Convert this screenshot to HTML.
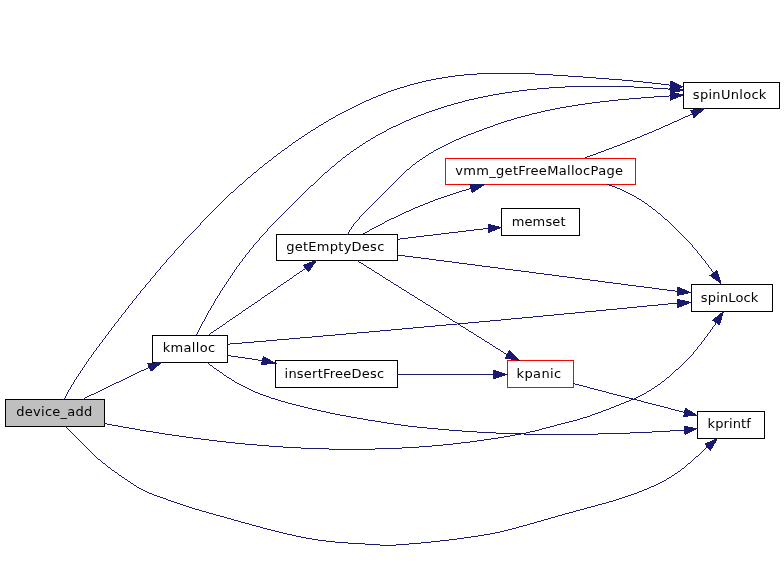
<!DOCTYPE html>
<html><head><meta charset="utf-8"><title>device_add call graph</title>
<style>
html,body{margin:0;padding:0;background:#fff;}
svg{display:block;will-change:transform;}
.n text{font-family:"DejaVu Sans","Liberation Sans",sans-serif;font-size:13px;fill:#000;}
.e{shape-rendering:crispEdges;}
.e path{fill:none;stroke:#191970;stroke-width:1;}
.e polygon{fill:#191970;stroke:none;}
</style></head><body>
<svg width="784" height="571" viewBox="0 0 784 571">
<rect x="0" y="0" width="784" height="571" fill="#fff"/>
<g class="n">
<rect x="5.5" y="399.5" width="99" height="27" fill="#bfbfbf" stroke="#000"/><text x="16.26" y="416" textLength="76.06" lengthAdjust="spacing">device_add</text>
<rect x="152.5" y="335.5" width="75" height="27" fill="#fff" stroke="#000"/><text x="162.75" y="352" textLength="52.43" lengthAdjust="spacing">kmalloc</text>
<rect x="276.5" y="234.5" width="121" height="26" fill="#fff" stroke="#000"/><text x="286.23" y="251" textLength="98.08" lengthAdjust="spacing">getEmptyDesc</text>
<rect x="275.5" y="360.5" width="122" height="27" fill="#fff" stroke="#000"/><text x="284.54" y="378" textLength="99.59" lengthAdjust="spacing">insertFreeDesc</text>
<rect x="445.5" y="158.5" width="190" height="26" fill="#fff" stroke="#f00"/><text x="455.26" y="175" textLength="167.73" lengthAdjust="spacing">vmm_getFreeMallocPage</text>
<rect x="501.5" y="208.5" width="78" height="27" fill="#fff" stroke="#000"/><text x="511.65" y="226" textLength="53.92" lengthAdjust="spacing">memset</text>
<rect x="507.5" y="360.5" width="66" height="27" fill="#fff" stroke="#f00"/><text x="516.62" y="378" textLength="44.48" lengthAdjust="spacing">kpanic</text>
<rect x="683.5" y="82.5" width="96" height="26" fill="#fff" stroke="#000"/><text x="692.86" y="99" textLength="73.49" lengthAdjust="spacing">spinUnlock</text>
<rect x="691.5" y="284.5" width="81" height="27" fill="#fff" stroke="#000"/><text x="700.86" y="302" textLength="57.49" lengthAdjust="spacing">spinLock</text>
<rect x="697.5" y="411.5" width="67" height="27" fill="#fff" stroke="#000"/><text x="707.62" y="428" textLength="43.23" lengthAdjust="spacing">kprintf</text>
</g>
<g class="e">
<path d="M63 399.5h1M64 398.5h1M65.5 396v2M66.5 394v2M67.5 392v2M68.5 390v2M69 389.5h1M70.5 387v2M71.5 385v2M72 384.5h1M73.5 382v2M74.5 380v2M75 379.5h1M76.5 377v2M77 376.5h1M78.5 374v2M79 373.5h1M80.5 371v2M81 370.5h1M82.5 368v2M83 367.5h1M84.5 365v2M85 364.5h1M86.5 362v2M87 361.5h1M88.5 359v2M89 358.5h1M90 357.5h1M91.5 355v2M92 354.5h1M93.5 352v2M94 351.5h1M95 350.5h1M96.5 348v2M97 347.5h1M98 346.5h1M99.5 344v2M100 343.5h1M101 342.5h1M102.5 340v2M103 339.5h1M104 338.5h1M105.5 336v2M106 335.5h1M107 334.5h1M108.5 332v2M109 331.5h1M110 330.5h1M111.5 328v2M112 327.5h1M113 326.5h1M114.5 324v2M115 323.5h1M116 322.5h1M117 321.5h1M118.5 319v2M119 318.5h1M120 317.5h1M121.5 315v2M122 314.5h1M123 313.5h1M124 312.5h1M125.5 310v2M126 309.5h1M127 308.5h1M128.5 306v2M129 305.5h1M130 304.5h1M131 303.5h1M132.5 301v2M133 300.5h1M134 299.5h1M135 298.5h1M136.5 296v2M137 295.5h1M138 294.5h1M139 293.5h1M140.5 291v2M141 290.5h1M142 289.5h1M143 288.5h1M144 287.5h1M145.5 285v2M146 284.5h1M147 283.5h1M148 282.5h1M149 281.5h1M150.5 279v2M151 278.5h1M152 277.5h1M153 276.5h1M154 275.5h1M155.5 273v2M156 272.5h1M157 271.5h1M158 270.5h1M159 269.5h1M160.5 267v2M161 266.5h1M162 265.5h1M163 264.5h1M164 263.5h1M165 262.5h1M166.5 260v2M167 259.5h1M168 258.5h1M169 257.5h1M170 256.5h1M171 255.5h1M172 254.5h1M173 253.5h1M174.5 251v2M175 250.5h1M176 249.5h1M177 248.5h1M178 247.5h1M179 246.5h1M180 245.5h1M181 244.5h1M182 243.5h1M183.5 241v2M184 240.5h1M185 239.5h1M186 238.5h1M187 237.5h1M188 236.5h1M189 235.5h1M190 234.5h1M191 233.5h1M192 232.5h1M193 231.5h1M194 230.5h1M195 229.5h1M196 228.5h1M197 227.5h1M198 226.5h1M199 225.5h1M200.5 223v2M201 222.5h1M202 221.5h1M203 220.5h1M204 219.5h1M205 218.5h1M206 217.5h1M207 216.5h1M208 215.5h1M209 214.5h1M210 213.5h1M211 212.5h1M212 211.5h1M213 210.5h1M214 209.5h1M215 208.5h1M216 207.5h1M217 206.5h1M218 205.5h1M219 204.5h1M220 203.5h1M221 202.5h1M222 201.5h1M223 200.5h1M224 199.5h1M225 198.5h1M226 197.5h1M227 196.5h1M228 195.5h1M229 194.5h1M230 193.5h1M231 192.5h2M233 191.5h1M234 190.5h1M235 189.5h1M236 188.5h1M237 187.5h1M238 186.5h1M239 185.5h1M240 184.5h2M242 183.5h1M243 182.5h1M244 181.5h1M245 180.5h1M246 179.5h1M247 178.5h1M248 177.5h2M250 176.5h1M251 175.5h1M252 174.5h1M253 173.5h1M254 172.5h2M256 171.5h1M257 170.5h1M258 169.5h1M259 168.5h1M260 167.5h2M262 166.5h1M263 165.5h1M264 164.5h1M265 163.5h2M267 162.5h1M268 161.5h1M269 160.5h2M271 159.5h1M272 158.5h1M273 157.5h1M274 156.5h2M276 155.5h1M277 154.5h1M278 153.5h2M280 152.5h1M281 151.5h1M282 150.5h2M284 149.5h1M285 148.5h2M287 147.5h1M288 146.5h1M289 145.5h2M291 144.5h1M292 143.5h1M293 142.5h2M295 141.5h1M296 140.5h2M298 139.5h1M299 138.5h2M301 137.5h1M302 136.5h2M304 135.5h1M305 134.5h2M307 133.5h1M308 132.5h2M310 131.5h1M311 130.5h2M313 129.5h2M315 128.5h1M316 127.5h2M318 126.5h1M319 125.5h2M321 124.5h2M323 123.5h1M324 122.5h2M326 121.5h2M328 120.5h1M329 119.5h2M331 118.5h2M333 117.5h2M335 116.5h1M336 115.5h2M338 114.5h2M340 113.5h2M342 112.5h2M344 111.5h2M346 110.5h2M348 109.5h2M350 108.5h2M352 107.5h2M354 106.5h2M356 105.5h2M358 104.5h2M360 103.5h2M362 102.5h2M364 101.5h2M366 100.5h3M369 99.5h2M371 98.5h2M373 97.5h3M376 96.5h2M378 95.5h3M381 94.5h2M383 93.5h3M386 92.5h2M388 91.5h3M391 90.5h3M394 89.5h3M397 88.5h3M400 87.5h4M404 86.5h3M407 85.5h3M410 84.5h4M414 83.5h4M418 82.5h4M422 81.5h4M426 80.5h5M431 79.5h5M436 78.5h6M442 77.5h6M448 76.5h7M455 75.5h9M464 74.5h13M477 73.5h58M535 74.5h18M553 75.5h15M568 76.5h15M583 77.5h13M596 78.5h13M609 79.5h13M622 80.5h11M633 81.5h10M643 82.5h9M652 83.5h9M661 84.5h8M669 85.5h2"/><polygon points="684.7,87.1 669.3,89.8 670.6,80.3"/>
<path d="M196 334.5h1M197.5 332v2M198.5 330v2M199.5 328v2M200.5 326v2M201.5 324v2M202.5 322v2M203 321.5h1M204.5 319v2M205.5 317v2M206.5 315v2M207.5 313v2M208.5 311v2M209 310.5h1M210.5 308v2M211.5 306v2M212 305.5h1M213.5 303v2M214.5 301v2M215.5 299v2M216 298.5h1M217.5 296v2M218 295.5h1M219.5 293v2M220.5 291v2M221 290.5h1M222.5 288v2M223 287.5h1M224.5 285v2M225 284.5h1M226.5 282v2M227 281.5h1M228.5 279v2M229 278.5h1M230.5 276v2M231 275.5h1M232.5 273v2M233 272.5h1M234.5 270v2M235 269.5h1M236.5 267v2M237 266.5h1M238 265.5h1M239.5 263v2M240 262.5h1M241 261.5h1M242.5 259v2M243 258.5h1M244 257.5h1M245.5 255v2M246 254.5h1M247 253.5h1M248 252.5h1M249.5 250v2M250 249.5h1M251 248.5h1M252 247.5h1M253.5 245v2M254 244.5h1M255 243.5h1M256 242.5h1M257 241.5h1M258 240.5h1M259.5 238v2M260 237.5h1M261 236.5h1M262 235.5h1M263 234.5h1M264 233.5h1M265 232.5h1M266 231.5h1M267.5 229v2M268 228.5h1M269 227.5h1M270 226.5h1M271 225.5h1M272 224.5h1M273 223.5h1M274 222.5h1M275 221.5h1M276 220.5h1M277 219.5h1M278 218.5h1M279 217.5h1M280 216.5h1M281 215.5h1M282 214.5h1M283 213.5h1M284 212.5h1M285 211.5h1M286 210.5h1M287 209.5h1M288 208.5h1M289 207.5h1M290 206.5h1M291 205.5h1M292 204.5h1M293 203.5h1M294 202.5h1M295 201.5h1M296 200.5h1M297 199.5h1M298 198.5h1M299 197.5h1M300 196.5h1M301 195.5h1M302 194.5h1M303 193.5h1M304 192.5h1M305 191.5h1M306 190.5h1M307 189.5h1M308 188.5h1M309 187.5h1M310 186.5h1M311 185.5h2M313 184.5h1M314 183.5h1M315 182.5h1M316 181.5h1M317 180.5h1M318 179.5h1M319 178.5h1M320 177.5h1M321 176.5h1M322 175.5h1M323 174.5h1M324 173.5h1M325 172.5h2M327 171.5h1M328 170.5h1M329 169.5h1M330 168.5h1M331 167.5h1M332 166.5h2M334 165.5h1M335 164.5h1M336 163.5h1M337 162.5h1M338 161.5h2M340 160.5h1M341 159.5h1M342 158.5h1M343 157.5h2M345 156.5h1M346 155.5h1M347 154.5h2M349 153.5h1M350 152.5h1M351 151.5h2M353 150.5h1M354 149.5h2M356 148.5h1M357 147.5h2M359 146.5h1M360 145.5h2M362 144.5h1M363 143.5h2M365 142.5h1M366 141.5h2M368 140.5h2M370 139.5h1M371 138.5h2M373 137.5h2M375 136.5h1M376 135.5h2M378 134.5h2M380 133.5h2M382 132.5h2M384 131.5h2M386 130.5h1M387 129.5h2M389 128.5h2M391 127.5h2M393 126.5h3M396 125.5h2M398 124.5h2M400 123.5h2M402 122.5h2M404 121.5h2M406 120.5h3M409 119.5h2M411 118.5h2M413 117.5h3M416 116.5h2M418 115.5h3M421 114.5h3M424 113.5h2M426 112.5h3M429 111.5h3M432 110.5h3M435 109.5h3M438 108.5h3M441 107.5h3M444 106.5h3M447 105.5h4M451 104.5h3M454 103.5h4M458 102.5h4M462 101.5h3M465 100.5h4M469 99.5h5M474 98.5h4M478 97.5h5M483 96.5h5M488 95.5h5M493 94.5h6M499 93.5h6M505 92.5h7M512 91.5h7M519 90.5h8M527 89.5h10M537 88.5h12M549 87.5h16M565 86.5h69M634 87.5h19M653 88.5h15M668 89.5h3"/><polygon points="684.7,90.3 669.5,93.9 670.3,84.3"/>
<path d="M347 234.5h1M348.5 232v2M349.5 230v2M350 229.5h1M351.5 227v2M352 226.5h1M353.5 224v2M354 223.5h1M355 222.5h1M356 221.5h1M357 220.5h1M358 219.5h1M359.5 217v2M360 216.5h1M361 215.5h1M362 214.5h1M363 213.5h1M364 212.5h1M365 211.5h1M366 210.5h1M367 209.5h1M368 208.5h1M369 207.5h1M370 206.5h1M371 205.5h1M372 204.5h1M373 203.5h1M374 202.5h1M375 201.5h1M376 200.5h1M377 199.5h1M378 198.5h1M379 197.5h1M380 196.5h1M381 195.5h1M382 194.5h1M383 193.5h1M384 192.5h1M385 191.5h1M386 190.5h1M387 189.5h1M388 188.5h1M389 187.5h1M390 186.5h1M391 185.5h1M392 184.5h1M393 183.5h1M394 182.5h1M395 181.5h1M396 180.5h1M397 179.5h1M398 178.5h1M399 177.5h1M400 176.5h1M401 175.5h1M402 174.5h1M403 173.5h1M404 172.5h1M405 171.5h1M406 170.5h1M407 169.5h2M409 168.5h1M410 167.5h1M411 166.5h1M412 165.5h1M413 164.5h2M415 163.5h1M416 162.5h1M417 161.5h2M419 160.5h1M420 159.5h2M422 158.5h1M423 157.5h2M425 156.5h1M426 155.5h2M428 154.5h1M429 153.5h2M431 152.5h2M433 151.5h1M434 150.5h2M436 149.5h2M438 148.5h2M440 147.5h2M442 146.5h2M444 145.5h2M446 144.5h2M448 143.5h2M450 142.5h2M452 141.5h2M454 140.5h2M456 139.5h3M459 138.5h2M461 137.5h2M463 136.5h3M466 135.5h2M468 134.5h3M471 133.5h3M474 132.5h2M476 131.5h3M479 130.5h3M482 129.5h2M484 128.5h3M487 127.5h3M490 126.5h3M493 125.5h2M495 124.5h3M498 123.5h3M501 122.5h3M504 121.5h3M507 120.5h4M511 119.5h3M514 118.5h3M517 117.5h4M521 116.5h4M525 115.5h4M529 114.5h3M532 113.5h5M537 112.5h4M541 111.5h4M545 110.5h5M550 109.5h5M555 108.5h5M560 107.5h6M566 106.5h6M572 105.5h6M578 104.5h7M585 103.5h7M592 102.5h8M600 101.5h9M609 100.5h9M618 99.5h11M629 98.5h12M641 97.5h13M654 96.5h15M669 95.5h2"/><polygon points="684.7,95.0 670.2,100.8 669.6,91.1"/>
<path d="M585 157.5h2M587 156.5h3M590 155.5h3M593 154.5h3M596 153.5h2M598 152.5h3M601 151.5h3M604 150.5h2M606 149.5h3M609 148.5h3M612 147.5h2M614 146.5h3M617 145.5h3M620 144.5h2M622 143.5h3M625 142.5h2M627 141.5h3M630 140.5h2M632 139.5h3M635 138.5h2M637 137.5h3M640 136.5h2M642 135.5h2M644 134.5h3M647 133.5h2M649 132.5h3M652 131.5h2M654 130.5h2M656 129.5h3M659 128.5h2M661 127.5h2M663 126.5h2M665 125.5h3M668 124.5h2M670 123.5h2M672 122.5h2M674 121.5h3M677 120.5h2M679 119.5h2M681 118.5h2M683 117.5h2M685 116.5h3M688 115.5h2M690 114.5h3"/><polygon points="705.4,108.0 694.0,118.6 689.9,109.9"/>
<path d="M363 233.5h2M365 232.5h2M367 231.5h2M369 230.5h1M370 229.5h2M372 228.5h2M374 227.5h2M376 226.5h2M378 225.5h2M380 224.5h2M382 223.5h2M384 222.5h1M385 221.5h2M387 220.5h2M389 219.5h2M391 218.5h3M394 217.5h2M396 216.5h2M398 215.5h2M400 214.5h2M402 213.5h2M404 212.5h2M406 211.5h3M409 210.5h2M411 209.5h2M413 208.5h2M415 207.5h3M418 206.5h2M420 205.5h3M423 204.5h2M425 203.5h3M428 202.5h2M430 201.5h3M433 200.5h2M435 199.5h3M438 198.5h3M441 197.5h3M444 196.5h3M447 195.5h3M450 194.5h3M453 193.5h3M456 192.5h3M459 191.5h3M462 190.5h4M466 189.5h3M469 188.5h2"/><polygon points="485.9,184.2 472.0,193.4 469.2,184.2"/>
<path d="M397 239.5h3M400 238.5h8M408 237.5h8M416 236.5h8M424 235.5h9M433 234.5h8M441 233.5h8M449 232.5h9M458 231.5h8M466 230.5h8M474 229.5h9M483 228.5h6"/><polygon points="502.5,227.4 488.3,233.2 487.7,223.6"/>
<path d="M397 254.5h1M398 255.5h7M405 256.5h8M413 257.5h8M421 258.5h8M429 259.5h7M436 260.5h8M444 261.5h8M452 262.5h7M459 263.5h8M467 264.5h8M475 265.5h7M482 266.5h8M490 267.5h8M498 268.5h7M505 269.5h8M513 270.5h8M521 271.5h8M529 272.5h7M536 273.5h8M544 274.5h8M552 275.5h7M559 276.5h8M567 277.5h8M575 278.5h7M582 279.5h8M590 280.5h8M598 281.5h7M605 282.5h8M613 283.5h8M621 284.5h7M628 285.5h8M636 286.5h8M644 287.5h8M652 288.5h7M659 289.5h8M667 290.5h8M675 291.5h3"/><polygon points="692.2,292.7 676.6,296.1 677.6,286.5"/>
<path d="M357 260.5h1M358 261.5h1M359 262.5h2M361 263.5h2M363 264.5h1M364 265.5h2M366 266.5h1M367 267.5h2M369 268.5h2M371 269.5h1M372 270.5h2M374 271.5h1M375 272.5h2M377 273.5h2M379 274.5h1M380 275.5h2M382 276.5h1M383 277.5h2M385 278.5h1M386 279.5h2M388 280.5h2M390 281.5h1M391 282.5h2M393 283.5h1M394 284.5h2M396 285.5h2M398 286.5h1M399 287.5h2M401 288.5h1M402 289.5h2M404 290.5h2M406 291.5h1M407 292.5h2M409 293.5h1M410 294.5h2M412 295.5h2M414 296.5h1M415 297.5h2M417 298.5h1M418 299.5h2M420 300.5h2M422 301.5h1M423 302.5h2M425 303.5h1M426 304.5h2M428 305.5h2M430 306.5h1M431 307.5h2M433 308.5h1M434 309.5h2M436 310.5h2M438 311.5h1M439 312.5h2M441 313.5h1M442 314.5h2M444 315.5h1M445 316.5h2M447 317.5h2M449 318.5h1M450 319.5h2M452 320.5h1M453 321.5h2M455 322.5h2M457 323.5h1M458 324.5h2M460 325.5h1M461 326.5h2M463 327.5h2M465 328.5h1M466 329.5h2M468 330.5h1M469 331.5h2M471 332.5h2M473 333.5h1M474 334.5h2M476 335.5h1M477 336.5h2M479 337.5h2M481 338.5h1M482 339.5h2M484 340.5h1M485 341.5h2M487 342.5h2M489 343.5h1M490 344.5h2M492 345.5h1M493 346.5h2M495 347.5h1M496 348.5h2M498 349.5h2M500 350.5h1M501 351.5h2M503 352.5h1M504 353.5h2M506 354.5h2"/><polygon points="520.7,361.0 504.6,358.5 508.9,349.8"/>
<path d="M607 184.5h2M609 185.5h3M612 186.5h3M615 187.5h2M617 188.5h3M620 189.5h2M622 190.5h2M624 191.5h2M626 192.5h2M628 193.5h2M630 194.5h2M632 195.5h2M634 196.5h2M636 197.5h1M637 198.5h2M639 199.5h2M641 200.5h1M642 201.5h2M644 202.5h1M645 203.5h2M647 204.5h1M648 205.5h1M649 206.5h2M651 207.5h1M652 208.5h1M653 209.5h2M655 210.5h1M656 211.5h1M657 212.5h1M658 213.5h2M660 214.5h1M661 215.5h1M662 216.5h1M663 217.5h1M664 218.5h1M665 219.5h2M667 220.5h1M668 221.5h1M669 222.5h1M670 223.5h1M671 224.5h1M672 225.5h1M673 226.5h1M674 227.5h1M675 228.5h1M676 229.5h1M677 230.5h1M678 231.5h1M679 232.5h1M680 233.5h1M681 234.5h1M682 235.5h1M683 236.5h1M684 237.5h1M685 238.5h1M686 239.5h1M687 240.5h1M688 241.5h1M689 242.5h1M690 243.5h1M691 244.5h1M692.5 245v2M693 247.5h1M694 248.5h1M695 249.5h1M696 250.5h1M697.5 251v2M698 253.5h1M699 254.5h1M700 255.5h1M701.5 256v2M702 258.5h1M703 259.5h1M704 260.5h1M705.5 261v2M706 263.5h1M707 264.5h1M708.5 265v2M709 267.5h1M710 268.5h1M711.5 269v2M712 271.5h1M713 272.5h1"/><polygon points="721.9,284.7 709.3,275.5 717.1,269.9"/>
<path d="M209 334.5h1M210 333.5h1M211 332.5h2M213 331.5h1M214 330.5h2M216 329.5h1M217 328.5h2M219 327.5h1M220 326.5h2M222 325.5h1M223 324.5h2M225 323.5h1M226 322.5h1M227 321.5h2M229 320.5h1M230 319.5h2M232 318.5h1M233 317.5h2M235 316.5h1M236 315.5h2M238 314.5h1M239 313.5h2M241 312.5h1M242 311.5h1M243 310.5h2M245 309.5h1M246 308.5h2M248 307.5h1M249 306.5h2M251 305.5h1M252 304.5h2M254 303.5h1M255 302.5h2M257 301.5h1M258 300.5h2M260 299.5h1M261 298.5h1M262 297.5h2M264 296.5h1M265 295.5h2M267 294.5h1M268 293.5h2M270 292.5h1M271 291.5h2M273 290.5h1M274 289.5h2M276 288.5h1M277 287.5h1M278 286.5h2M280 285.5h1M281 284.5h2M283 283.5h1M284 282.5h2M286 281.5h1M287 280.5h2M289 279.5h1M290 278.5h2M292 277.5h1M293 276.5h1M294 275.5h2M296 274.5h1M297 273.5h2M299 272.5h1M300 271.5h2M302 270.5h1M303 269.5h2M305 268.5h1"/><polygon points="317.5,259.7 308.4,272.6 302.5,264.9"/>
<path d="M227 344.5h3M230 343.5h12M242 342.5h12M254 341.5h12M266 340.5h11M277 339.5h12M289 338.5h11M300 337.5h12M312 336.5h11M323 335.5h12M335 334.5h11M346 333.5h11M357 332.5h12M369 331.5h11M380 330.5h11M391 329.5h11M402 328.5h11M413 327.5h11M424 326.5h11M435 325.5h11M446 324.5h11M457 323.5h11M468 322.5h11M479 321.5h11M490 320.5h11M501 319.5h10M511 318.5h11M522 317.5h11M533 316.5h10M543 315.5h11M554 314.5h10M564 313.5h11M575 312.5h10M585 311.5h11M596 310.5h10M606 309.5h11M617 308.5h10M627 307.5h10M637 306.5h10M647 305.5h11M658 304.5h10M668 303.5h10"/><polygon points="692.2,302.2 677.4,308.3 676.6,298.7"/>
<path d="M227 355.5h4M231 356.5h7M238 357.5h7M245 358.5h7M252 359.5h6M258 360.5h5"/><polygon points="276.6,363.5 260.9,365.2 262.9,355.7"/>
<path d="M207 362.5h1M208 363.5h1M209 364.5h1M210 365.5h2M212 366.5h1M213 367.5h1M214 368.5h2M216 369.5h1M217 370.5h2M219 371.5h1M220 372.5h2M222 373.5h1M223 374.5h1M224 375.5h2M226 376.5h1M227 377.5h2M229 378.5h2M231 379.5h1M232 380.5h2M234 381.5h1M235 382.5h2M237 383.5h2M239 384.5h2M241 385.5h2M243 386.5h2M245 387.5h2M247 388.5h2M249 389.5h2M251 390.5h2M253 391.5h2M255 392.5h3M258 393.5h2M260 394.5h3M263 395.5h3M266 396.5h3M269 397.5h2M271 398.5h4M275 399.5h3M278 400.5h3M281 401.5h4M285 402.5h3M288 403.5h4M292 404.5h4M296 405.5h4M300 406.5h4M304 407.5h4M308 408.5h4M312 409.5h5M317 410.5h4M321 411.5h5M326 412.5h4M330 413.5h5M335 414.5h5M340 415.5h6M346 416.5h5M351 417.5h6M357 418.5h6M363 419.5h5M368 420.5h7M375 421.5h6M381 422.5h6M387 423.5h7M394 424.5h7M401 425.5h7M408 426.5h9M417 427.5h10M427 428.5h11M438 429.5h11M449 430.5h13M462 431.5h15M477 432.5h19M496 433.5h28M524 434.5h74M598 433.5h32M630 432.5h22M652 431.5h18M670 430.5h15"/><polygon points="698.4,428.6 684.6,435.1 683.4,425.5"/>
<path d="M397 374.5h97"/><polygon points="508.2,374.5 493.4,379.3 493.4,369.7"/>
<path d="M573 383.5h2M575 384.5h4M579 385.5h4M583 386.5h4M587 387.5h3M590 388.5h4M594 389.5h4M598 390.5h4M602 391.5h4M606 392.5h3M609 393.5h4M613 394.5h4M617 395.5h4M621 396.5h4M625 397.5h4M629 398.5h4M633 399.5h4M637 400.5h4M641 401.5h3M644 402.5h4M648 403.5h4M652 404.5h4M656 405.5h4M660 406.5h4M664 407.5h4M668 408.5h3M671 409.5h4M675 410.5h4M679 411.5h4M683 412.5h2"/><polygon points="698.4,415.7 683.0,416.9 685.2,407.5"/>
<path d="M83 399.5h1M84 398.5h1M85 397.5h2M87 396.5h2M89 395.5h2M91 394.5h3M94 393.5h2M96 392.5h2M98 391.5h2M100 390.5h2M102 389.5h2M104 388.5h2M106 387.5h2M108 386.5h2M110 385.5h2M112 384.5h2M114 383.5h2M116 382.5h3M119 381.5h2M121 380.5h2M123 379.5h2M125 378.5h2M127 377.5h2M129 376.5h2M131 375.5h2M133 374.5h2M135 373.5h2M137 372.5h2M139 371.5h2M141 370.5h3M144 369.5h2M146 368.5h2M148 367.5h2"/><polygon points="162.9,361.8 150.8,372.1 147.1,363.2"/>
<path d="M104 423.5h3M107 424.5h5M112 425.5h6M118 426.5h5M123 427.5h6M129 428.5h6M135 429.5h5M140 430.5h6M146 431.5h7M153 432.5h6M159 433.5h6M165 434.5h7M172 435.5h7M179 436.5h7M186 437.5h7M193 438.5h8M201 439.5h8M209 440.5h8M217 441.5h9M226 442.5h9M235 443.5h10M245 444.5h12M257 445.5h12M269 446.5h14M283 447.5h18M301 448.5h28M329 449.5h46M375 448.5h27M402 447.5h17M419 446.5h13M432 445.5h11M443 444.5h10M453 443.5h8M461 442.5h9M470 441.5h7M477 440.5h7M484 439.5h7M491 438.5h7M498 437.5h6M504 436.5h6M510 435.5h5M515 434.5h6M521 433.5h5M526 432.5h4M530 431.5h5M535 430.5h4M539 429.5h3M542 428.5h4M546 427.5h4M550 426.5h4M554 425.5h3M557 424.5h4M561 423.5h4M565 422.5h4M569 421.5h4M573 420.5h4M577 419.5h3M580 418.5h3M583 417.5h4M587 416.5h3M590 415.5h2M592 414.5h3M595 413.5h3M598 412.5h3M601 411.5h2M603 410.5h3M606 409.5h3M609 408.5h2M611 407.5h3M614 406.5h2M616 405.5h3M619 404.5h2M621 403.5h3M624 402.5h2M626 401.5h3M629 400.5h2M631 399.5h3M634 398.5h2M636 397.5h2M638 396.5h2M640 395.5h2M642 394.5h2M644 393.5h2M646 392.5h1M647 391.5h2M649 390.5h2M651 389.5h1M652 388.5h2M654 387.5h1M655 386.5h2M657 385.5h1M658 384.5h2M660 383.5h1M661 382.5h1M662 381.5h2M664 380.5h1M665 379.5h1M666 378.5h1M667 377.5h2M669 376.5h1M670 375.5h1M671 374.5h1M672 373.5h1M673 372.5h1M674 371.5h1M675 370.5h1M676 369.5h2M678 368.5h1M679 367.5h1M680 366.5h1M681 365.5h1M682 364.5h1M683 363.5h1M684 362.5h1M685 361.5h1M686 360.5h1M687 359.5h1M688 358.5h1M689 357.5h1M690 356.5h1M691 355.5h1M692 354.5h1M693.5 352v2M694 351.5h1M695 350.5h1M696 349.5h1M697.5 347v2M698 346.5h1M699 345.5h1M700 344.5h1M701.5 342v2M702 341.5h1M703 340.5h1M704.5 338v2M705 337.5h1M706 336.5h1M707.5 334v2M708 333.5h1M709 332.5h1M710.5 330v2M711 329.5h1M712.5 327v2M713 326.5h1M714 325.5h1M715.5 323v2M716 322.5h1"/><polygon points="724.2,310.6 719.8,325.6 711.9,320.2"/>
<path d="M65 426.5h1M66 427.5h1M67 428.5h1M68 429.5h1M69 430.5h1M70 431.5h1M71 432.5h1M72 433.5h1M73 434.5h1M74 435.5h1M75 436.5h1M76 437.5h1M77 438.5h1M78 439.5h1M79 440.5h1M80 441.5h1M81 442.5h1M82 443.5h1M83 444.5h1M84 445.5h1M85 446.5h1M86 447.5h1M87 448.5h1M88 449.5h1M89 450.5h1M90 451.5h1M91 452.5h1M92 453.5h1M93 454.5h1M94 455.5h1M95 456.5h1M96 457.5h1M97 458.5h1M98 459.5h2M100 460.5h1M101 461.5h1M102 462.5h1M103 463.5h2M105 464.5h1M106 465.5h1M107 466.5h1M108 467.5h2M110 468.5h1M111 469.5h1M112 470.5h2M114 471.5h1M115 472.5h2M117 473.5h1M118 474.5h1M119 475.5h2M121 476.5h1M122 477.5h2M124 478.5h1M125 479.5h2M127 480.5h1M128 481.5h2M130 482.5h1M131 483.5h2M133 484.5h1M134 485.5h2M136 486.5h1M137 487.5h2M139 488.5h2M141 489.5h2M143 490.5h2M145 491.5h2M147 492.5h2M149 493.5h3M152 494.5h2M154 495.5h3M157 496.5h3M160 497.5h3M163 498.5h3M166 499.5h2M168 500.5h3M171 501.5h3M174 502.5h3M177 503.5h3M180 504.5h3M183 505.5h3M186 506.5h3M189 507.5h3M192 508.5h3M195 509.5h4M199 510.5h3M202 511.5h4M206 512.5h3M209 513.5h4M213 514.5h3M216 515.5h4M220 516.5h4M224 517.5h3M227 518.5h4M231 519.5h3M234 520.5h4M238 521.5h3M241 522.5h4M245 523.5h4M249 524.5h3M252 525.5h4M256 526.5h4M260 527.5h3M263 528.5h4M267 529.5h4M271 530.5h4M275 531.5h4M279 532.5h4M283 533.5h4M287 534.5h5M292 535.5h4M296 536.5h5M301 537.5h5M306 538.5h6M312 539.5h6M318 540.5h8M326 541.5h9M335 542.5h13M348 543.5h17M365 544.5h15M380 545.5h16M396 544.5h13M409 543.5h12M421 542.5h10M431 541.5h9M440 540.5h9M449 539.5h8M457 538.5h7M464 537.5h7M471 536.5h7M478 535.5h6M484 534.5h6M490 533.5h5M495 532.5h5M500 531.5h4M504 530.5h4M508 529.5h4M512 528.5h4M516 527.5h3M519 526.5h4M523 525.5h4M527 524.5h3M530 523.5h4M534 522.5h3M537 521.5h4M541 520.5h3M544 519.5h4M548 518.5h3M551 517.5h4M555 516.5h3M558 515.5h4M562 514.5h3M565 513.5h4M569 512.5h4M573 511.5h3M576 510.5h4M580 509.5h4M584 508.5h3M587 507.5h4M591 506.5h4M595 505.5h3M598 504.5h4M602 503.5h4M606 502.5h3M609 501.5h4M613 500.5h3M616 499.5h3M619 498.5h3M622 497.5h3M625 496.5h3M628 495.5h3M631 494.5h3M634 493.5h3M637 492.5h2M639 491.5h3M642 490.5h2M644 489.5h3M647 488.5h2M649 487.5h2M651 486.5h3M654 485.5h2M656 484.5h2M658 483.5h2M660 482.5h2M662 481.5h2M664 480.5h2M666 479.5h1M667 478.5h2M669 477.5h2M671 476.5h1M672 475.5h2M674 474.5h1M675 473.5h2M677 472.5h1M678 471.5h2M680 470.5h1M681 469.5h1M682 468.5h2M684 467.5h1M685 466.5h1M686 465.5h1M687 464.5h1M688 463.5h2M690 462.5h1M691 461.5h1M692 460.5h1M693 459.5h1M694 458.5h1M695 457.5h1M696 456.5h2M698 455.5h1M699 454.5h1M700 453.5h1M701 452.5h1M702 451.5h1M703 450.5h1M704 449.5h1M705 448.5h1M706 447.5h2"/><polygon points="718.5,437.7 710.5,451.1 704.1,443.8"/>
</g>
</svg>
</body></html>
